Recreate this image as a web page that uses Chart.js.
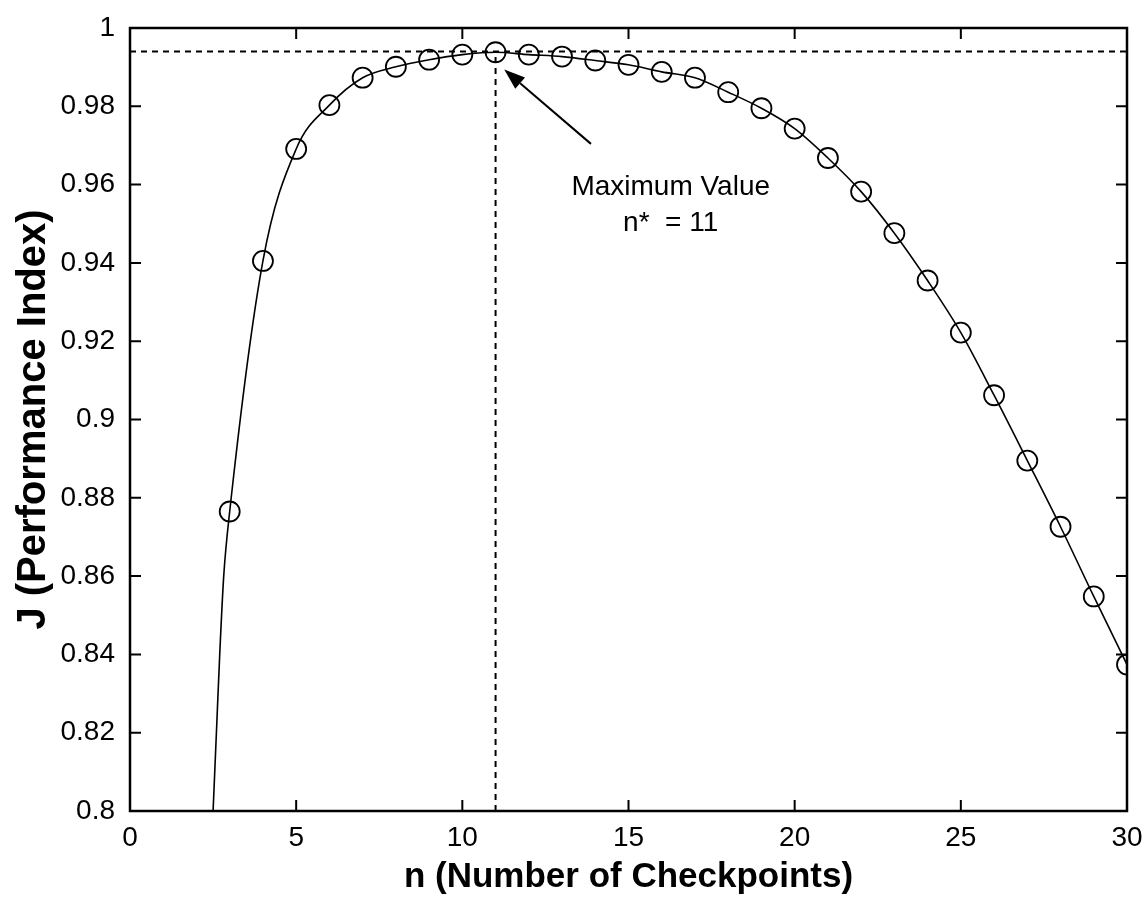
<!DOCTYPE html>
<html>
<head>
<meta charset="utf-8">
<script src="https://cdn.jsdelivr.net/npm/chart.js@4.4.1/dist/chart.umd.min.js"></script>
<style>
  html, body { margin: 0; padding: 0; background: #fff; }
  #wrap { width: 1144px; height: 900px; }
</style>
</head>
<body>
<div id="wrap"><canvas id="c" width="1144" height="900"></canvas></div>
<script>
// ---- data ----
const nValues = [3, 4, 5, 6, 7, 8, 9, 10, 11, 12, 13, 14, 15, 16, 17, 18, 19, 20, 21, 22, 23, 24, 25, 26, 27, 28, 29, 30];
const jValues = [0.8765, 0.9405, 0.9691, 0.9803, 0.9873, 0.9901, 0.9919, 0.9932, 0.9938, 0.9932, 0.9927, 0.9917, 0.9906, 0.9888, 0.9873, 0.9836, 0.9795, 0.9743, 0.9668, 0.9582, 0.9476, 0.9355, 0.9222, 0.9062, 0.8895, 0.8726, 0.8548, 0.8374];
// continuous curve below n = 3 (no markers)
const tailN = [2.5, 2.6, 2.7, 2.82];
const tailJ = [0.80, 0.82, 0.84, 0.86];

const xTicks = [0, 5, 10, 15, 20, 25, 30];
const xTickLabels = ['0', '5', '10', '15', '20', '25', '30'];
const yTicks = [0.8, 0.82, 0.84, 0.86, 0.88, 0.9, 0.92, 0.94, 0.96, 0.98, 1];
const yTickLabels = ['0.8', '0.82', '0.84', '0.86', '0.88', '0.9', '0.92', '0.94', '0.96', '0.98', '1'];

const maxN = 11;
const maxJ = 0.994;

const xTitle = 'n (Number of Checkpoints)';
const yTitle = 'J (Performance Index)';

const noteLines = ['Maximum Value', 'n*  = 11'];
const noteX = [16.27, 16.27];
const noteY = [0.9592, 0.9500];
const arrowFromXY = [13.87, 0.9704];
const arrowToXY = [11.26, 0.9894];

// ---- build datasets ----
const curvePts = tailN.map((n, i) => ({x: n, y: tailJ[i]}))
  .concat(nValues.map((n, i) => ({x: n, y: jValues[i]})));
const markerPts = nValues.map((n, i) => ({x: n, y: jValues[i]}));

const FONT = '"Liberation Sans", Arial, sans-serif';

const boxPlugin = {
  id: 'matlabBox',
  afterDatasetsDraw(chart) {
    const {ctx, chartArea: a, scales: {x, y}} = chart;
    ctx.save();
    // annotation text
    ctx.fillStyle = '#000';
    ctx.font = '28px ' + FONT;
    ctx.textAlign = 'center';
    ctx.textBaseline = 'middle';
    noteLines.forEach((t, i) => {
      ctx.fillText(t, x.getPixelForValue(noteX[i]), y.getPixelForValue(noteY[i]));
    });
    // arrow
    const x0 = x.getPixelForValue(arrowFromXY[0]), y0 = y.getPixelForValue(arrowFromXY[1]);
    const x1 = x.getPixelForValue(arrowToXY[0]), y1 = y.getPixelForValue(arrowToXY[1]);
    const ang = Math.atan2(y1 - y0, x1 - x0);
    const hl = 21, hw = 7.5;
    ctx.strokeStyle = '#000';
    ctx.lineWidth = 2;
    ctx.beginPath();
    ctx.moveTo(x0, y0);
    ctx.lineTo(x1 - hl * Math.cos(ang), y1 - hl * Math.sin(ang));
    ctx.stroke();
    ctx.beginPath();
    ctx.moveTo(x1, y1);
    ctx.lineTo(x1 - hl * Math.cos(ang) + hw * Math.sin(ang), y1 - hl * Math.sin(ang) - hw * Math.cos(ang));
    ctx.lineTo(x1 - hl * Math.cos(ang) - hw * Math.sin(ang), y1 - hl * Math.sin(ang) + hw * Math.cos(ang));
    ctx.closePath();
    ctx.fillStyle = '#000';
    ctx.fill();
    // box
    ctx.lineWidth = 2.5;
    ctx.strokeRect(a.left, a.top, a.right - a.left, a.bottom - a.top);
    // inward ticks
    const tl = 11;
    ctx.lineWidth = 2;
    ctx.beginPath();
    xTicks.forEach(v => {
      const px = x.getPixelForValue(v);
      ctx.moveTo(px, a.bottom); ctx.lineTo(px, a.bottom - tl);
      ctx.moveTo(px, a.top); ctx.lineTo(px, a.top + tl);
    });
    yTicks.forEach(v => {
      const py = y.getPixelForValue(v);
      ctx.moveTo(a.left, py); ctx.lineTo(a.left + tl, py);
      ctx.moveTo(a.right, py); ctx.lineTo(a.right - tl, py);
    });
    ctx.stroke();
    ctx.restore();
  }
};

new Chart(document.getElementById('c'), {
  type: 'scatter',
  data: {
    datasets: [
      {
        label: 'J curve',
        data: curvePts,
        showLine: true,
        borderColor: '#000',
        borderWidth: 1.6,
        pointRadius: 0,
        cubicInterpolationMode: 'monotone',
        fill: false
      },
      {
        label: 'J markers',
        data: markerPts,
        showLine: false,
        pointStyle: 'circle',
        pointRadius: 10,
        pointBorderWidth: 1.8,
        pointBorderColor: '#000',
        pointBackgroundColor: 'rgba(0,0,0,0)'
      },
      {
        label: 'max J',
        data: [{x: 0, y: maxJ}, {x: 30, y: maxJ}],
        showLine: true,
        borderColor: '#000',
        borderWidth: 2,
        borderDash: [6, 5],
        pointRadius: 0
      },
      {
        label: 'n*',
        data: [{x: maxN, y: 0.8}, {x: maxN, y: maxJ}],
        showLine: true,
        borderColor: '#000',
        borderWidth: 2,
        borderDash: [6, 5],
        pointRadius: 0
      }
    ]
  },
  options: {
    responsive: false,
    animation: false,
    devicePixelRatio: 1,
    layout: { padding: { top: 28, right: 17, left: 0, bottom: 0 } },
    plugins: { legend: { display: false }, tooltip: { enabled: false } },
    scales: {
      x: {
        type: 'linear',
        min: 0, max: 30,
        afterBuildTicks: s => { s.ticks = xTicks.map(v => ({value: v})); },
        afterFit: s => { s.height = 89; s.paddingLeft = 0; s.paddingRight = 0; },
        grid: { display: false },
        border: { display: false },
        ticks: {
          color: '#000',
          font: { family: FONT, size: 28 },
          padding: 2,
          maxRotation: 0,
          autoSkip: false,
          callback: (v) => { const i = xTicks.indexOf(v); return i >= 0 ? xTickLabels[i] : ''; }
        },
        title: {
          display: true,
          text: xTitle,
          color: '#000',
          font: { family: FONT, size: 35, weight: 'bold' },
          padding: { top: 0, bottom: 2 }
        }
      },
      y: {
        type: 'linear',
        min: 0.8, max: 1,
        afterBuildTicks: s => { s.ticks = yTicks.map(v => ({value: v})); },
        afterFit: s => { s.width = 130; s.paddingTop = 0; s.paddingBottom = 0; },
        grid: { display: false },
        border: { display: false },
        ticks: {
          color: '#000',
          font: { family: FONT, size: 28 },
          padding: 7,
          autoSkip: false,
          callback: (v) => { const i = yTicks.findIndex(t => Math.abs(t - v) < 1e-9); return i >= 0 ? yTickLabels[i] : ''; }
        },
        title: {
          display: true,
          text: yTitle,
          color: '#000',
          font: { family: FONT, size: 40, weight: 'bold' },
          padding: { top: 10, bottom: 0 }
        }
      }
    }
  },
  plugins: [boxPlugin]
});
</script>
</body>
</html>
